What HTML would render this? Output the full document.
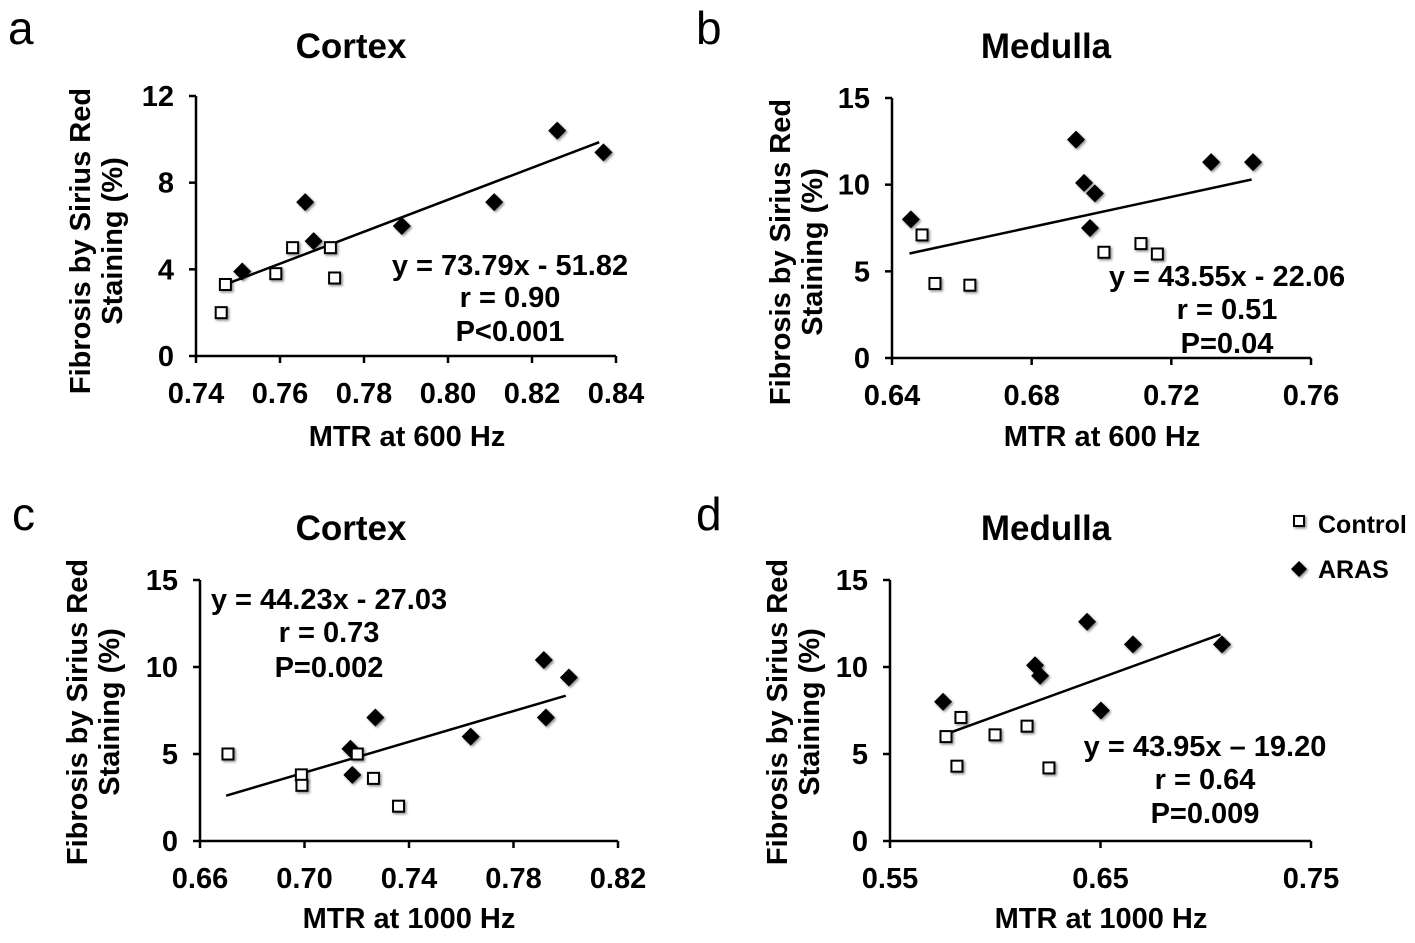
<!DOCTYPE html>
<html><head><meta charset="utf-8"><style>
body{margin:0;background:#fff;}
svg{display:block;font-family:"Liberation Sans",Arial,sans-serif;}
.b{font-weight:bold;}
</style></head><body>
<svg id="fig" width="1415" height="943" viewBox="0 0 1415 943" xmlns="http://www.w3.org/2000/svg">
<defs><filter id="sh" x="-50%" y="-50%" width="200%" height="200%"><feDropShadow dx="1.5" dy="1.5" stdDeviation="1.2" flood-color="#000" flood-opacity="0.45"/></filter></defs>
<text x="8" y="44" font-size="46">a</text>
<text x="696" y="44" font-size="46">b</text>
<text x="12" y="530" font-size="46">c</text>
<text x="696" y="530" font-size="46">d</text>
<g>
<rect x="1294" y="516" width="10" height="10" fill="#fff" stroke="#000" stroke-width="2" filter="url(#sh)"/>
<text x="1318" y="533" font-size="25" class="b">Control</text>
<polygon points="1299,561 1307,569 1299,577 1291,569" fill="#000" filter="url(#sh)"/>
<text x="1318" y="578" font-size="25" class="b">ARAS</text>
</g>
</svg>
<script>
// Panel a
const aCtrlX=[0.746,0.747,0.759,0.763,0.772,0.773];
const aCtrlY=[2.0,3.3,3.8,5.0,5.0,3.6];
const aArasX=[0.751,0.766,0.768,0.789,0.811,0.826,0.837];
const aArasY=[3.9,7.1,5.3,6.0,7.1,10.4,9.4];
const aFit=[73.79,-51.82]; const aFitRange=[0.747,0.836];
const aXTicks=["0.74","0.76","0.78","0.80","0.82","0.84"];
const aYTicks=["0","4","8","12"];
// Panel b
const bCtrlX=[0.6486,0.6523,0.6623,0.7007,0.7113,0.716];
const bCtrlY=[7.1,4.3,4.2,6.1,6.6,6.0];
const bArasX=[0.6454,0.6927,0.695,0.6981,0.6967,0.7314,0.7434];
const bArasY=[8.0,12.6,10.1,9.5,7.5,11.3,11.3];
const bFit=[43.55,-22.06]; const bFitRange=[0.645,0.743];
const bXTicks=["0.64","0.68","0.72","0.76"];
const bYTicks=["0","5","10","15"];
// Panel c
const cCtrlX=[0.6707,0.6988,0.699,0.7202,0.7264,0.736];
const cCtrlY=[5.0,3.8,3.2,5.0,3.6,2.0];
const cArasX=[0.7176,0.7183,0.7271,0.7636,0.7916,0.7924,0.8012];
const cArasY=[5.3,3.8,7.1,6.0,10.4,7.1,9.4];
const cFit=[44.23,-27.03]; const cFitRange=[0.67,0.80];
const cXTicks=["0.66","0.70","0.74","0.78","0.82"];
const cYTicks=["0","5","10","15"];
// Panel d
const dCtrlX=[0.5766,0.5818,0.5837,0.5999,0.6151,0.6255];
const dCtrlY=[6.0,4.3,7.1,6.1,6.6,4.2];
const dArasX=[0.5752,0.6189,0.6213,0.6436,0.6502,0.6654,0.7077];
const dArasY=[8.0,10.1,9.5,12.6,7.5,11.3,11.3];
const dFit=[43.95,-19.20]; const dFitRange=[0.576,0.707];
const dXTicks=["0.55","0.65","0.75"];
const dYTicks=["0","5","10","15"];

const NS="http://www.w3.org/2000/svg";
const svg=document.getElementById('fig');
function mk(t,a,p){const e=document.createElementNS(NS,t);for(const k in a)e.setAttribute(k,a[k]);(p||svg).appendChild(e);return e;}
function txt(x,y,s,size,anchor,p){const e=mk('text',{x:x,y:y,'font-size':size,'font-weight':'bold','text-anchor':anchor},p);e.textContent=s;return e;}

function panel(id,cfg){
  const g=mk('g',{});
  
  
  const sx=v=>cfg.px0+(v-cfg.x0)/(cfg.x1-cfg.x0)*(cfg.px1-cfg.px0);
  const sy=v=>cfg.py0-(v-cfg.y0)/(cfg.y1-cfg.y0)*(cfg.py0-cfg.py1);
  const t=txt(cfg.titleX,cfg.titleY,cfg.title,35,'middle',g);
  
  
  const ax=mk('path',{d:`M${cfg.px0} ${cfg.py1} V${cfg.py0} H${cfg.px1}`,stroke:'#000','stroke-width':2.5,fill:'none'},g);
  
  
  cfg.xt.forEach(s=>{const v=parseFloat(s),x=sx(v);
    mk('line',{x1:x,x2:x,y1:cfg.py0,y2:cfg.py0+7,stroke:'#000','stroke-width':2.5},g);
    const l=txt(x,cfg.py0+47,s,29,'middle',g);
    
    });
  cfg.yt.forEach(s=>{const v=parseFloat(s),y=sy(v);
    mk('line',{x1:cfg.px0-7,x2:cfg.px0,y1:y,y2:y,stroke:'#000','stroke-width':2.5},g);
    const l=txt(cfg.px0-22,y+10,s,29,'end',g);
    
    });
  const xtl=txt(cfg.xtX,cfg.xtY,cfg.xTitle,29,'middle',g);
  
  
  const yg=mk('g',{transform:`translate(${cfg.ytX},${cfg.ytY}) rotate(-90)`},g);
  
  
  txt(0,0,'Fibrosis by Sirius Red',29,'middle',yg);
  txt(0,32,'Staining (%)',29,'middle',yg);
  const fl=mk('line',{x1:sx(cfg.fr[0]),y1:sy(cfg.fit[0]*cfg.fr[0]+cfg.fit[1]),x2:sx(cfg.fr[1]),y2:sy(cfg.fit[0]*cfg.fr[1]+cfg.fit[1]),stroke:'#000','stroke-width':2.5},g);
  
  
  cfg.ax_.forEach((v,i)=>{const x=sx(v),y=sy(cfg.ay[i]);
    const p=mk('polygon',{points:`${x},${y-9} ${x+9},${y} ${x},${y+9} ${x-9},${y}`,fill:'#000',filter:'url(#sh)'},g);
    
    });
  cfg.cx.forEach((v,i)=>{const x=sx(v),y=sy(cfg.cy[i]);
    const p=mk('rect',{x:x-5.5,y:y-5.5,width:11,height:11,fill:'#fff',stroke:'#000','stroke-width':2,filter:'url(#sh)'},g);
    
    });
  const an=mk('g',{},g);
  
  
  cfg.ann.forEach((s,i)=>txt(cfg.annX,cfg.annY[i],s,29,'middle',an));
}
panel('a',{x0:0.74,x1:0.84,px0:196,px1:616,y0:0,y1:12,py0:356,py1:96,xt:aXTicks,yt:aYTicks,cx:aCtrlX,cy:aCtrlY,ax_:aArasX,ay:aArasY,fit:aFit,fr:aFitRange,
 title:'Cortex',titleX:351,titleY:58,xTitle:'MTR at 600 Hz',xtX:407,xtY:446,ytX:90,ytY:241,
 ann:['y = 73.79x - 51.82','r = 0.90','P<0.001'],annX:510,annY:[275,307,341]});
panel('b',{x0:0.64,x1:0.76,px0:892,px1:1311,y0:0,y1:15,py0:358,py1:98,xt:bXTicks,yt:bYTicks,cx:bCtrlX,cy:bCtrlY,ax_:bArasX,ay:bArasY,fit:bFit,fr:bFitRange,
 title:'Medulla',titleX:1046,titleY:58,xTitle:'MTR at 600 Hz',xtX:1102,xtY:446,ytX:790,ytY:252,
 ann:['y = 43.55x - 22.06','r = 0.51','P=0.04'],annX:1227,annY:[286,319,353]});
panel('c',{x0:0.66,x1:0.82,px0:200,px1:618,y0:0,y1:15,py0:841,py1:580,xt:cXTicks,yt:cYTicks,cx:cCtrlX,cy:cCtrlY,ax_:cArasX,ay:cArasY,fit:cFit,fr:cFitRange,
 title:'Cortex',titleX:351,titleY:540,xTitle:'MTR at 1000 Hz',xtX:409,xtY:928,ytX:87,ytY:712,
 ann:['y = 44.23x - 27.03','r =  0.73','P=0.002'],annX:329,annY:[609,642,677]});
panel('d',{x0:0.55,x1:0.75,px0:890,px1:1311,y0:0,y1:15,py0:841,py1:580,xt:dXTicks,yt:dYTicks,cx:dCtrlX,cy:dCtrlY,ax_:dArasX,ay:dArasY,fit:dFit,fr:dFitRange,
 title:'Medulla',titleX:1046,titleY:540,xTitle:'MTR at 1000 Hz',xtX:1101,xtY:928,ytX:787,ytY:712,
 ann:['y = 43.95x \u2013 19.20','r = 0.64','P=0.009'],annX:1205,annY:[756,789,823]});
</script>
</body></html>
